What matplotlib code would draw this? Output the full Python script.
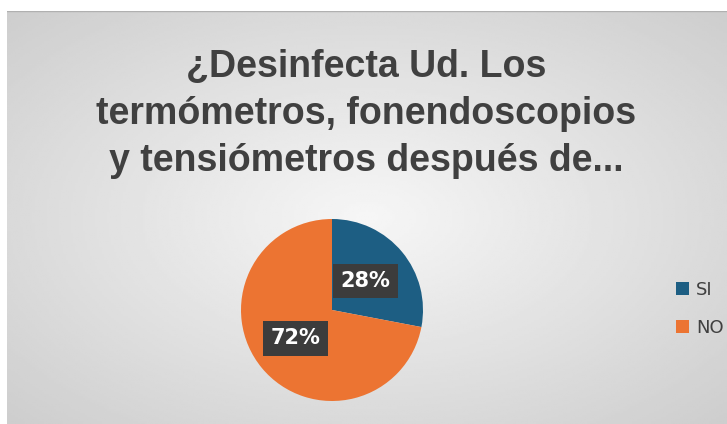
import numpy as np
import matplotlib
matplotlib.use("Agg")
import matplotlib.pyplot as plt

labels = ["SI", "NO"]
values = [28, 72]
colors = ["#1d5e83", "#ec7432"]
title = "¿Desinfecta Ud. Los\ntermómetros, fonendoscopios\ny tensiómetros después de..."

W, H = 727, 424
fig = plt.figure(figsize=(W / 100, H / 100), dpi=100)
fig.patch.set_facecolor("white")

# chart area with radial gradient background
left = 7 / W
bg = fig.add_axes([left, 0, 1 - left, (H - 11) / H])
yy, xx = np.mgrid[-1:1:200j, -1:1:300j]
r = np.sqrt(xx ** 2 + yy ** 2) / np.sqrt(2)
shade = 0.965 - 0.16 * r
bg.imshow(shade, cmap="gray", vmin=0, vmax=1, aspect="auto", extent=[0, 1, 0, 1])
bg.set_xlim(0, 1)
bg.set_ylim(0, 1)
bg.axis("off")
bg.axhline(1, color="#b0b0b0", lw=1)

fig.text(366 / W, 1 - 114 / H, title, ha="center", va="center",
         fontsize=27, fontweight="bold", color="#404040",
         family=["Liberation Sans Narrow", "Liberation Sans", "DejaVu Sans"],
         linespacing=1.4)

# pie
cx, cy, rad = 332, 310, 91
ax = fig.add_axes([(cx - rad) / W, 1 - (cy + rad) / H, 2 * rad / W, 2 * rad / H])
wedges, _ = ax.pie(values, colors=colors, startangle=90, counterclock=False,
                   radius=1.0)
ax.set_aspect("equal")
ax.set_xlim(-1, 1)
ax.set_ylim(-1, 1)

box = dict(boxstyle="square,pad=0.35", fc="#3c3c3c", ec="none")
ax.text(0.37, 0.32, "28%", ha="center", va="center", color="white",
        fontsize=15, fontweight="bold", bbox=box)
ax.text(-0.40, -0.31, "72%", ha="center", va="center", color="white",
        fontsize=15, fontweight="bold", bbox=box)

fig.legend(wedges, labels, loc="center left", bbox_to_anchor=(660 / W, 1 - 309 / H),
           frameon=False, fontsize=13, handlelength=0.7, handleheight=0.7,
           labelspacing=1.1, handletextpad=0.4, labelcolor="#404040")

fig.savefig("out.png", dpi=100)
